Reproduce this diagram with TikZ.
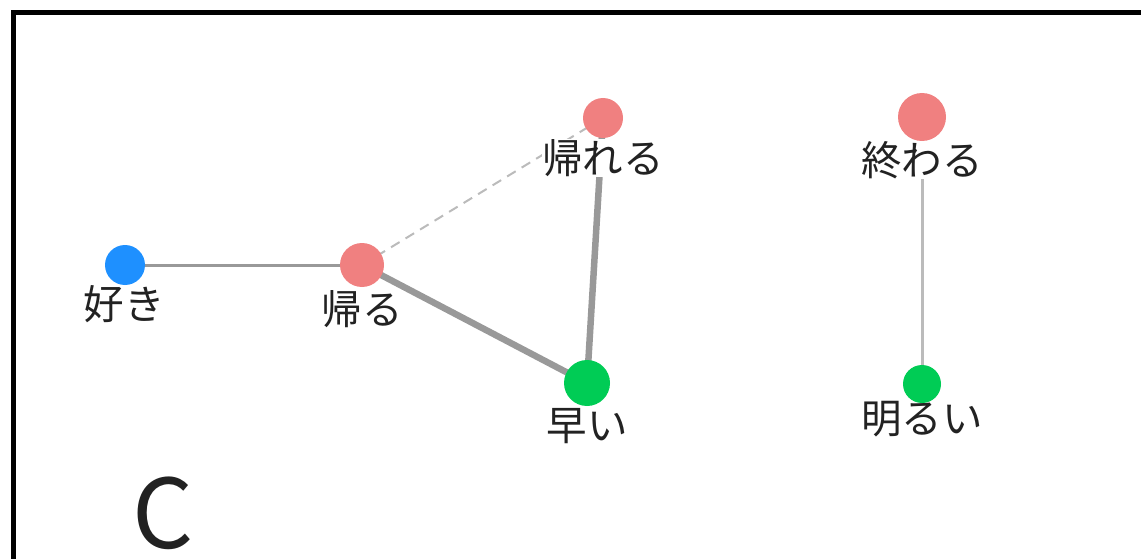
\documentclass[tikz,border=0pt]{standalone}
\usepackage{fontspec}
\newfontfamily\cjk{Noto Sans CJK JP}
\definecolor{nred}{HTML}{F08080}
\definecolor{nblue}{HTML}{1E90FF}
\definecolor{ngreen}{HTML}{00CC55}
\definecolor{egray}{HTML}{999999}
\definecolor{elight}{HTML}{BBBBBB}
\definecolor{txt}{HTML}{222222}
\begin{document}
\begin{tikzpicture}[x=1pt,y=-1pt,
  dot/.style={circle,inner sep=0pt,minimum size=#1},
  lbl/.style={font=\cjk\fontsize{40.5}{42}\selectfont,text=txt,fill=white,inner sep=0pt},
  edge/.style={draw=egray,line width=3pt},
  thick edge/.style={draw=egray,line width=6.5pt},
  dash edge/.style={draw=elight,line width=2pt,dash pattern=on 10pt off 7pt}]
\useasboundingbox (0,0) rectangle (1141,559);
\draw[line width=5pt] (13.5,559) -- (13.5,12.5) -- (1141,12.5);
% nodes
\coordinate (sukiC) at (125,265);
\coordinate (kaeruC) at (362,265);
\coordinate (kaereruC) at (603,118);
\coordinate (hayaiC) at (587,383);
\coordinate (owaruC) at (922,117);
\coordinate (akaruiC) at (922,384);
% edges
\draw[edge] (sukiC) -- (kaeruC);
\draw[dash edge] (kaeruC) -- (kaereruC);
\draw[thick edge] (kaeruC) -- (hayaiC);
\draw[thick edge] (kaereruC) -- (hayaiC);
\draw[edge,draw=elight] (owaruC) -- (akaruiC);
% labels
\node[lbl] (sukiL) at (124,304) {好き};
\node[lbl] (kaeruL) at (362,309) {帰る};
\node[lbl] (kaereruL) at (603,158) {帰れる};
\node[lbl] (hayaiL) at (587,426) {早い};
\node[lbl] (owaruL) at (922,160) {終わる};
\node[lbl] (akaruiL) at (922,419) {明るい};
% circles
\node[dot=40pt,fill=nblue] (suki) at (sukiC) {};
\node[dot=44pt,fill=nred] (kaeru) at (kaeruC) {};
\node[dot=40pt,fill=nred] (kaereru) at (kaereruC) {};
\node[dot=46pt,fill=ngreen] (hayai) at (hayaiC) {};
\node[dot=48pt,fill=nred] (owaru) at (owaruC) {};
\node[dot=38pt,fill=ngreen] (akarui) at (akaruiC) {};
% panel letter
\node[font=\cjk\fontsize{96}{100}\selectfont,text=txt,inner sep=0pt] (letter) at (163,513) {C};
\end{tikzpicture}
\end{document}
